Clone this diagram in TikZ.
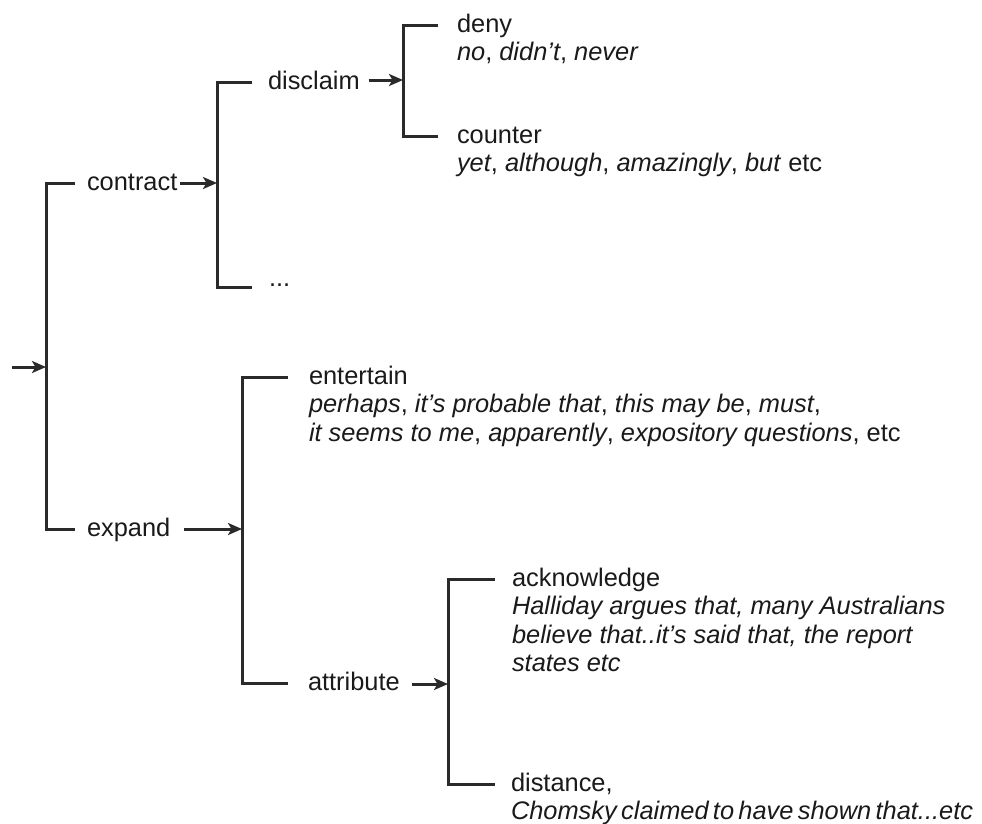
\documentclass[tikz,border=0pt]{standalone}
\usepackage{fontspec}
\setmainfont{Liberation Sans}
\usetikzlibrary{arrows.meta}
\definecolor{ink}{HTML}{1A1A1A}
\definecolor{rule}{HTML}{2A2A2A}
% fixed first-line height so that leaf texts sit on a known baseline
\newcommand{\firstline}{\rule{0pt}{20pt}}
\begin{document}
\begin{tikzpicture}[x=1pt,y=-1pt,
  every node/.style={inner sep=0pt,outer sep=0pt,text=ink,
    font=\fontsize{25.4}{28.5}\selectfont},
  label/.style={anchor=base west},
  leaf/.style={anchor=north west,align=left},
  bracket/.style={draw=rule,line width=3pt,line cap=butt,line join=miter},
  feed/.style={draw=rule,line width=3pt,-{Stealth[length=14pt,width=12pt,inset=3.5pt]}}]
\useasboundingbox[fill=white] (0,0) rectangle (982,823);

% junction points of the brackets
\coordinate (start) at (12,367);
\coordinate (root) at (46,367);
\coordinate (cj) at (217,183);
\coordinate (dj) at (403,80);
\coordinate (ej) at (242,529);
\coordinate (aj) at (448,684);

% first level: contract / expand
\node[label] (contract) at (87,190) {contract};
\node[label] (expand) at (87,536) {expand};
\draw[bracket] (75,183) -- (46,183) -- (46,529) -- (75,529);
\draw[feed] (start) -- (root);

% contract branch
\node[label] (disclaim) at (268,89) {disclaim};
\node[label] (more) at (269,286) {...};
\draw[bracket] (252,82) -- (217,82) -- (217,287) -- (252,287);
\draw[feed] (contract.east |- cj) ++(3,0) -- (cj);

% disclaim branch
\node[leaf] (deny) at (457,12) {\firstline deny\\\textit{no}, \textit{didn't}, \textit{never}};
\node[leaf] (counter) at (457,123) {\firstline counter\\\textit{yet}, \textit{although}, \textit{amazingly}, \textit{but} etc};
\draw[bracket] (438,25) -- (403,25) -- (403,136) -- (438,136);
\draw[feed] (disclaim.east |- dj) ++(9,0) -- (dj);

% expand branch
\node[leaf] (entertain) at (309,364) {\firstline entertain\\
  \textit{perhaps}, \textit{it's probable that}, \textit{this may be}, \textit{must},\\
  \textit{it seems to me}, \textit{apparently}, \textit{expository questions}, etc};
\node[label] (attribute) at (308,690) {attribute};
\draw[bracket] (288,377) -- (242,377) -- (242,683) -- (288,683);
\draw[feed] (expand.east |- ej) ++(14,0) -- (ej);

% attribute branch
\node[leaf] (acknowledge) at (512,566) {\firstline acknowledge\\
  \textit{Halliday argues that, many Australians}\\
  \textit{believe that..it's said that, the report}\\
  \textit{states etc}};
\node[leaf] (distance) at (511,771) {\firstline distance,\\
  {\itshape\spaceskip=0.17em\relax Chomsky claimed to have shown that...etc}};
\draw[bracket] (495,579) -- (448,579) -- (448,784) -- (495,784);
\draw[feed] (attribute.east |- aj) ++(12,0) -- (aj);
\end{tikzpicture}
\end{document}
